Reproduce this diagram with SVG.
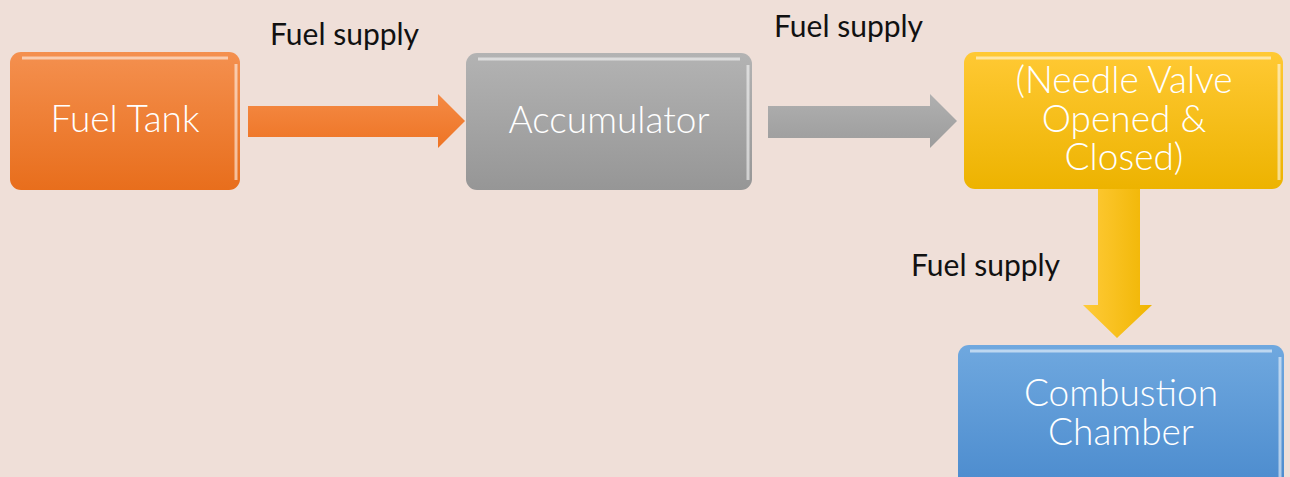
<svg xmlns="http://www.w3.org/2000/svg" width="1290" height="477" viewBox="0 0 1290 477">
<style>
.lbl{font-family:Lato,"Open Sans","Liberation Sans",sans-serif;font-size:30px;fill:#111;}
.nt{font-family:Lato,"Open Sans","Liberation Sans",sans-serif;font-weight:300;font-size:37px;fill:#fff;text-anchor:middle;}
.hl{fill:none;stroke:#fff;stroke-opacity:0.55;stroke-width:3;}
</style>
<defs>
<linearGradient id="gO" x1="0" y1="0" x2="0" y2="1"><stop offset="0" stop-color="#F4904F"/><stop offset="1" stop-color="#E86E1C"/></linearGradient>
<linearGradient id="gG" x1="0" y1="0" x2="0" y2="1"><stop offset="0" stop-color="#B3B3B3"/><stop offset="1" stop-color="#969696"/></linearGradient>
<linearGradient id="gY" x1="0" y1="0" x2="0" y2="1"><stop offset="0" stop-color="#FFC934"/><stop offset="1" stop-color="#EDB300"/></linearGradient>
<linearGradient id="gB" x1="0" y1="0" x2="0" y2="1"><stop offset="0" stop-color="#6FA8DF"/><stop offset="1" stop-color="#4A8ACD"/></linearGradient>
<linearGradient id="aO" x1="0" y1="0" x2="0" y2="1"><stop offset="0" stop-color="#F48A45"/><stop offset="1" stop-color="#EE7424"/></linearGradient>
<linearGradient id="aG" x1="0" y1="0" x2="0" y2="1"><stop offset="0" stop-color="#B0B0B0"/><stop offset="1" stop-color="#9C9C9C"/></linearGradient>
<linearGradient id="aY" x1="0" y1="0" x2="1" y2="0"><stop offset="0" stop-color="#FFCB3A"/><stop offset="1" stop-color="#F0B500"/></linearGradient>
</defs>
<rect width="1290" height="477" fill="#EFDFD8"/>
<g id="connectors">
<path d="M248,106 H438 V94 L465,121 L438,148 V137 H248 Z" fill="url(#aO)"/>
<path d="M768,106 H930 V94 L957,121 L930,148 V138 H768 Z" fill="url(#aG)"/>
<path d="M1098,178 H1140 V305 H1152 L1117,338 L1083,305 H1098 Z" fill="url(#aY)"/>
</g>
<g id="fuel-tank">
<rect x="10" y="52" width="230" height="138" rx="11" fill="url(#gO)"/>
<path class="hl" d="M22,58 H228 M236,64 V180"/>
<text class="nt" x="125" y="132">Fuel Tank</text>
</g>
<g id="accumulator">
<rect x="466" y="53" width="286" height="137" rx="11" fill="url(#gG)"/>
<path class="hl" d="M478,59 H740 M748,65 V180"/>
<text class="nt" x="609" y="133">Accumulator</text>
</g>
<g id="needle-valve">
<rect x="964" y="52" width="319" height="137" rx="11" fill="url(#gY)"/>
<path class="hl" d="M976,58 H1271 M1279,64 V180"/>
<text class="nt" x="1124" y="93">(Needle Valve</text>
<text class="nt" x="1124" y="132">Opened &amp;</text>
<text class="nt" x="1124" y="170">Closed)</text>
</g>
<g id="combustion-chamber">
<rect x="958" y="345" width="326" height="150" rx="11" fill="url(#gB)"/>
<path class="hl" d="M970,351 H1272 M1280,357 V477"/>
<text class="nt" x="1121" y="406">Combustion</text>
<text class="nt" x="1121" y="445">Chamber</text>
</g>
<g id="labels">
<text class="lbl" x="270" y="45">Fuel supply</text>
<text class="lbl" x="774" y="37">Fuel supply</text>
<text class="lbl" x="911" y="276">Fuel supply</text>
</g>
</svg>
